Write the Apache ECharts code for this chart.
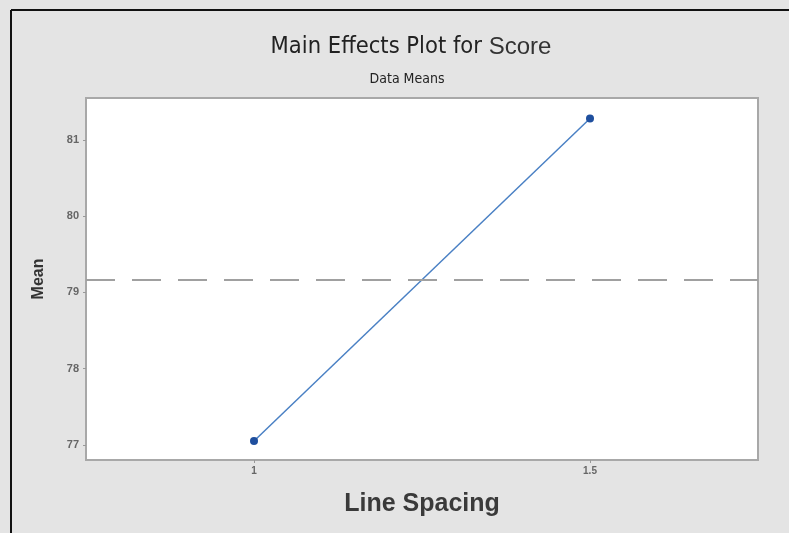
<!DOCTYPE html>
<html>
<head>
<meta charset="utf-8">
<script src="https://cdn.jsdelivr.net/npm/echarts@6/dist/echarts.min.js"></script>
<style>html,body{margin:0;padding:0;background:#e4e4e4;}#c{width:789px;height:533px;}</style>
</head>
<body>
<div id="c"></div>
<script>
const categories = ['1', '1.5'];
const means = [77.05, 81.28];
const yTicks = [77, 78, 79, 80, 81];
const grandMean = 79.165;

const chart = echarts.init(document.getElementById('c'), null, {renderer: 'canvas'});
chart.setOption({
  backgroundColor: '#e4e4e4',
  animation: false,
  title: [{
    text: '{a|Main Effects Plot for }{b|Score}',
    left: 406, top: 30, textAlign: 'center',
    textStyle: {
      fontWeight: 'normal',
      rich: {
        a: {fontFamily: 'DejaVu Sans Condensed', fontSize: 23.5, fontWeight: 'normal', color: '#222'},
        b: {fontFamily: 'Liberation Sans', fontSize: 24, fontWeight: 'normal', color: '#333'}
      }
    }
  }, {
    text: 'Data Means',
    left: 402, top: 67, textAlign: 'center',
    textStyle: {fontFamily: 'DejaVu Sans Condensed', fontSize: 14, fontWeight: 'normal', color: '#222'}
  }],
  graphic: [
    {type: 'line', shape: {x1: 11, y1: 10, x2: 789, y2: 10}, style: {stroke: '#111', lineWidth: 2}},
    {type: 'line', shape: {x1: 11, y1: 10, x2: 11, y2: 533}, style: {stroke: '#111', lineWidth: 2}}
  ],
  grid: {left: 86, right: 31, top: 98, bottom: 73, show: true, backgroundColor: '#fff', borderColor: '#a8a8a8', borderWidth: 2},
  xAxis: {
    type: 'category', data: categories, boundaryGap: true,
    name: 'Line Spacing', nameLocation: 'middle', nameGap: 32,
    nameTextStyle: {fontFamily: 'Liberation Sans', fontSize: 25, fontWeight: 'bold', color: '#3a3a3a'},
    axisLine: {show: false},
    axisTick: {show: true, alignWithLabel: true, length: 3, lineStyle: {color: '#999'}},
    axisLabel: {fontFamily: 'Liberation Sans', fontSize: 10, fontWeight: 'bold', color: '#666', margin: 6},
    splitLine: {show: false}
  },
  yAxis: {
    type: 'value', min: 76.8, max: 81.55,
    name: 'Mean', nameLocation: 'middle', nameGap: 39, nameRotate: 90,
    nameTextStyle: {fontFamily: 'Liberation Sans', fontSize: 16, fontWeight: 'bold', color: '#333'},
    axisLine: {show: false},
    axisTick: {show: true, customValues: yTicks, length: 3, lineStyle: {color: '#999'}},
    axisLabel: {customValues: yTicks, fontFamily: 'Liberation Sans', fontSize: 11, fontWeight: 'bold', color: '#666', margin: 7},
    splitLine: {show: false}
  },
  series: [{
    type: 'line', data: means,
    symbol: 'circle', symbolSize: 8,
    itemStyle: {color: '#1f4f9e'},
    lineStyle: {color: '#4a80c4', width: 1.5},
    markLine: {
      silent: true, symbol: ['none', 'none'], label: {show: false},
      lineStyle: {color: '#a0a0a0', width: 2, type: [29, 17]},
      data: [{yAxis: grandMean}]
    }
  }]
});
</script>
</body>
</html>
